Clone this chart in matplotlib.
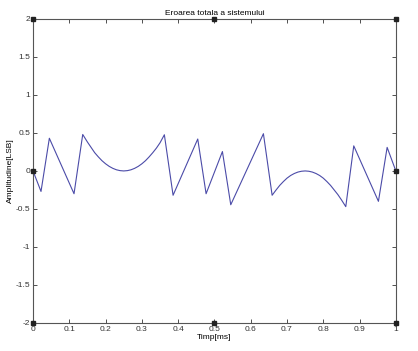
import numpy as np
import matplotlib.pyplot as plt

plt.rcParams['font.family'] = ['Liberation Sans', 'DejaVu Sans']

# error curve
t = [0.0, 0.022, 0.045, 0.113, 0.137,
     0.15, 0.16, 0.17, 0.18, 0.19, 0.20, 0.21, 0.22, 0.23, 0.24, 0.25,
     0.26, 0.27, 0.28, 0.29, 0.30, 0.31, 0.32, 0.33, 0.34, 0.35, 0.362,
     0.386, 0.454, 0.477, 0.522, 0.545, 0.635,
     0.659, 0.67, 0.68, 0.69, 0.70, 0.71, 0.72, 0.73, 0.74, 0.75,
     0.76, 0.77, 0.78, 0.79, 0.80, 0.81, 0.82, 0.83, 0.84, 0.85, 0.862,
     0.884, 0.952, 0.976, 1.0]
err = [0.0, -0.27, 0.43, -0.30, 0.48,
       0.38, 0.31, 0.24, 0.185, 0.135, 0.094, 0.06, 0.034, 0.015, 0.004, 0.0,
       0.004, 0.015, 0.034, 0.06, 0.094, 0.135, 0.185, 0.24, 0.30, 0.37, 0.476,
       -0.32, 0.42, -0.30, 0.255, -0.445, 0.49,
       -0.32, -0.25, -0.19, -0.14, -0.095, -0.06, -0.034, -0.015, -0.004, 0.0,
       -0.004, -0.015, -0.034, -0.06, -0.095, -0.14, -0.19, -0.25, -0.31, -0.38, -0.47,
       0.33, -0.40, 0.31, 0.0]

# small square markers seen on the frame
mark_x = [0, 0.5, 1, 0, 1, 0, 0.5, 1]
mark_y = [2, 2, 2, 0, 0, -2, -2, -2]

xticks = np.round(np.arange(0, 1.01, 0.1), 1)
yticks = np.arange(-2, 2.01, 0.5)

fig = plt.figure(figsize=(4.18, 3.51), dpi=100)
ax = fig.add_axes([0.079, 0.080, 0.868, 0.866])

ax.plot(t, err, color='#4b4ba8', linewidth=0.8)
ax.plot(mark_x, mark_y, linestyle='none', marker='s', markersize=3,
        color='#222222', clip_on=False, zorder=5)

ax.set_xlim(0, 1)
ax.set_ylim(-2, 2)
ax.set_xticks(xticks)
ax.set_xticklabels([f'{v:g}' for v in xticks])
ax.set_yticks(yticks)
ax.set_yticklabels([f'{v:g}' for v in yticks])
ax.tick_params(direction='in', length=3, width=0.6, labelsize=6,
               colors='#333333', top=True, right=True, pad=2)
for s in ax.spines.values():
    s.set_color('#555555')
    s.set_linewidth(0.8)

ax.set_title('Eroarea totala a sistemului', fontsize=6, pad=3)
ax.set_xlabel('Timp[ms]', fontsize=6, labelpad=1)
ax.set_ylabel('Amplitudine[LSB]', fontsize=6, labelpad=1)

fig.savefig('out.png', dpi=100)
